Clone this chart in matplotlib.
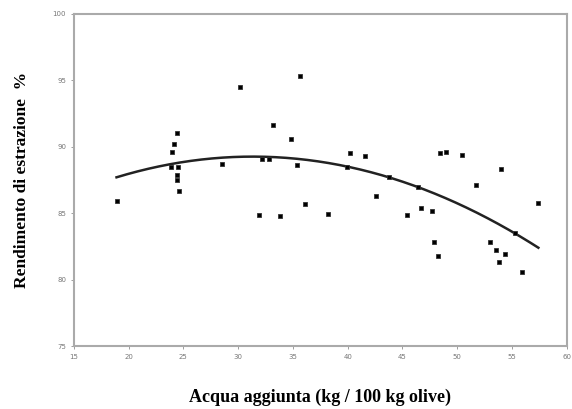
import numpy as np
import matplotlib.pyplot as plt

# acqua aggiunta (kg / 100 kg olive) vs rendimento di estrazione (%)
acqua = [18.9, 24.4, 24.15, 23.97, 23.9, 24.5, 24.4, 24.4, 24.6,
         30.2, 28.5, 31.9, 33.8, 33.2, 32.2, 32.8, 34.8, 35.6, 35.4,
         36.1, 38.2, 40.2, 39.9, 41.6, 42.6, 43.8, 45.4, 46.4, 46.7,
         47.7, 47.9, 48.2, 48.4, 49.0, 50.4, 51.7, 54.0, 53.0, 53.5,
         54.4, 53.8, 55.3, 55.9, 57.4]
rendimento = [85.9, 91.0, 90.2, 89.6, 88.5, 88.5, 87.9, 87.5, 86.7,
              94.5, 88.7, 84.85, 84.8, 91.6, 89.1, 89.1, 90.6, 95.3, 88.6,
              85.7, 84.9, 89.5, 88.5, 89.3, 86.3, 87.7, 84.85, 87.0, 85.4,
              85.2, 82.8, 81.8, 89.5, 89.6, 89.4, 87.1, 88.3, 82.8, 82.2,
              81.9, 81.3, 83.5, 80.55, 85.8]

# coefficienti della curva di tendenza (polinomio di 2 grado)
coeff = [-0.01009, 0.6322, 79.355]

x_ticks = [15, 20, 25, 30, 35, 40, 45, 50, 55, 60]
y_ticks = [75, 80, 85, 90, 95, 100]

fig = plt.figure(figsize=(5.72, 4.09), dpi=100)
ax = fig.add_axes([0.129, 0.154, 0.862, 0.812])

xc = np.linspace(min(acqua), max(acqua), 200)
ax.plot(xc, np.polyval(coeff, xc), color="#222222", linewidth=1.8)
ax.plot(acqua, rendimento, "s", color="black", markersize=3.4,
        markeredgewidth=0.6, markeredgecolor="#333333")

ax.set_xlim(15, 60)
ax.set_ylim(75, 100)
ax.set_xticks(x_ticks)
ax.set_yticks(y_ticks)
ax.tick_params(labelsize=5, colors="#777777", length=2, width=0.5)
for s in ax.spines.values():
    s.set_color("#aaaaaa")
    s.set_linewidth(1.5)

ax.set_xlabel("Acqua aggiunta (kg / 100 kg olive)", family="Liberation Serif",
              fontweight="bold", fontsize=13, labelpad=21)
ax.set_ylabel("Rendimento di estrazione  %", family="Liberation Serif",
              fontweight="bold", fontsize=12.5, labelpad=16)

fig.savefig("out.png", dpi=100)
